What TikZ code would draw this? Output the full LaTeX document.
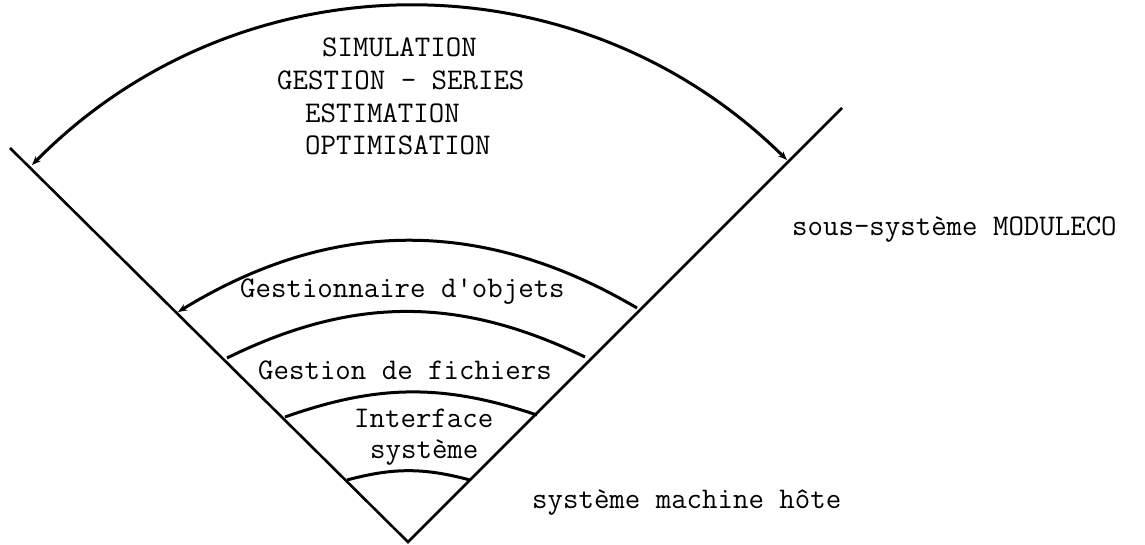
\documentclass[tikz,border=0pt]{standalone}
\usepackage{fontspec}
\usetikzlibrary{arrows.meta}
\begin{document}
\begin{tikzpicture}[x=1pt, y=1pt,
   ligne/.style={line width=2.6pt},
   couche/.style={line width=3pt},
   fleche/.tip={Stealth[length=9pt, width=7pt]},
   texte/.style={anchor=base west, inner sep=0pt, font=\fontsize{30}{34}\selectfont\ttfamily}]
   \useasboundingbox (0,0) rectangle (1145,544);
   \coordinate (o) at (408,2);
   \coordinate (g) at (10,396);
   \coordinate (d) at (842,436);
   \path[draw, ligne] (g) -- (o) -- (d);
   \def \Couches {
      1/32/379/787/384,
      2/178/232/637/236,
      3/227/186/585/187,
      4/285/127/537/129,
      5/347/64/470/64}
   \foreach \num / \xa / \ya / \xb / \yb in \Couches {
      \coordinate (a\num) at (\xa, \ya);
      \coordinate (b\num) at (\xb, \yb);
   }
   \path[draw, couche, fleche-fleche] (a1) to[bend left=45] (b1);
   \path[draw, couche, fleche-] (a2) to[bend left=31] (b2);
   \foreach \num / \ang in {3/26, 4/19, 5/15} {
      \path[draw, couche] (a\num) to[bend left=\ang] (b\num);
   }
   \def \Textes {
      t1/322/487/SIMULATION,
      t2/277/454/GESTION - SERIES,
      t3/305/421/ESTIMATION,
      t4/305/389/OPTIMISATION,
      t5/240/246/Gestionnaire d'objets,
      t6/258/165/Gestion de fichiers,
      t7/354/117/Interface,
      t8/370/86/système,
      t9/792/308/sous-système MODULECO,
      t10/532/36/système machine hôte}
   \foreach \no / \x / \y / \na in \Textes {
      \node[texte] (\no) at (\x, \y) {\na};
   }
\end{tikzpicture}
\end{document}
